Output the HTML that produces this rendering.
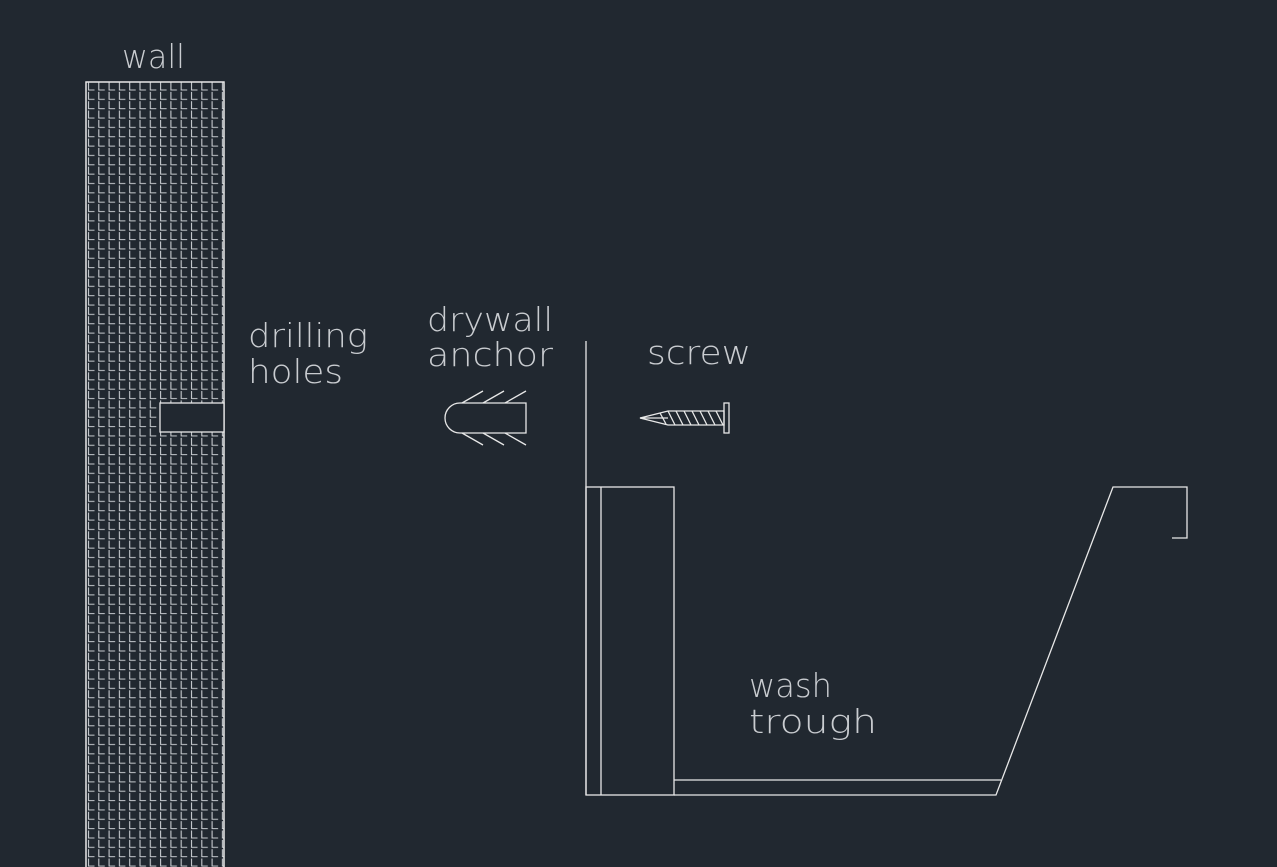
<!DOCTYPE html>
<html><head><meta charset="utf-8"><style>
html,body{margin:0;padding:0;background:#212830;}
svg{display:block}
text{font-family:"DejaVu Sans","Liberation Sans",sans-serif;font-weight:200;fill:#c9ccd0;font-size:33px;}
</style></head><body>
<svg width="1277" height="867" viewBox="0 0 1277 867" xmlns="http://www.w3.org/2000/svg">
<defs>
<pattern id="g" x="86" y="82" width="10.3" height="9.35" patternUnits="userSpaceOnUse">
<path d="M2.5 0.5 V8 H8.5" stroke="#c8ccd0" stroke-width="1.1" fill="none"/>
</pattern>
</defs>
<rect width="1277" height="867" fill="#212830"/>
<g stroke="#e8e8e8" stroke-width="1.3" fill="none">
<rect x="86" y="82" width="138" height="790" fill="url(#g)"/>
<rect x="86" y="82" width="138" height="790"/>
<rect x="160" y="403" width="64" height="29" fill="#212830"/>
<path d="M460 403 H526 V433 H460 A15 15 0 0 1 460 403 Z"/>
<path d="M462 403 L483 391 M483 403 L504 391 M505 403 L526 391 M462 433 L483 445 M483 433 L504 445 M505 433 L526 445"/>
<path d="M640 418 L668 411 H724 V425 H668 Z"/>
<path d="M640 418 L668 418"/>
<rect x="724" y="403" width="5" height="30"/>
<path d="M660 413 L666 424 M668 411 L675 425 M676 411 L683 425 M684 411 L691 425 M692 411 L699 425 M700 411 L707 425 M708 411 L715 425 M716 411 L723 425"/>
<path d="M586 341 V795"/>
<rect x="586" y="487" width="88" height="308"/>
<path d="M601 487 V795"/>
<path d="M674 780 H1001 M674 795 H996 L1113 487 H1187 V538 H1172"/>
</g>
<text x="122" y="68" textLength="63" lengthAdjust="spacingAndGlyphs">wall</text>
<text x="248" y="347" textLength="120" lengthAdjust="spacingAndGlyphs">drilling</text>
<text x="248" y="383" textLength="95" lengthAdjust="spacingAndGlyphs">holes</text>
<text x="427" y="331" textLength="126" lengthAdjust="spacingAndGlyphs">drywall</text>
<text x="427" y="366" textLength="126" lengthAdjust="spacingAndGlyphs">anchor</text>
<text x="647" y="364" textLength="104" lengthAdjust="spacingAndGlyphs">screw</text>
<text x="749" y="697" textLength="83" lengthAdjust="spacingAndGlyphs">wash</text>
<text x="749" y="733" textLength="128" lengthAdjust="spacingAndGlyphs">trough</text>
</svg>
</body></html>
